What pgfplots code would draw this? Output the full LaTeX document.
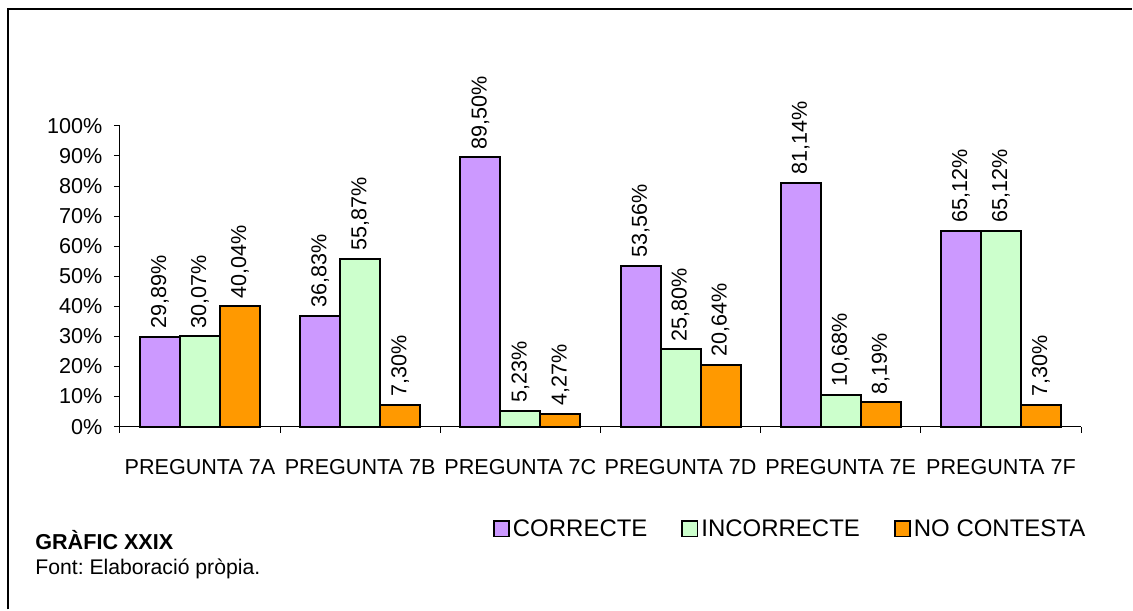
\documentclass[border=0pt]{standalone}
\usepackage{fontspec}
\setmainfont{Liberation Sans}
\usepackage{pgfplots}
\pgfplotsset{compat=1.18}
\definecolor{cpurple}{HTML}{CC99FF}
\definecolor{cgreen}{HTML}{CCFFCC}
\definecolor{corange}{HTML}{FF9900}
\pgfplotsset{sqleg/.style={legend image code/.code={\draw[##1,line width=0.9pt] (0pt,-3.4pt) rectangle (7.6pt,4.2pt);}}}

\begin{document}
\frenchspacing
\fontsize{10.8}{13}\selectfont
\begin{tikzpicture}[x=1pt,y=1pt]
\path (0,0) rectangle (566.5,305);
\draw[line width=1pt] (4,0) -- (4,300.5) -- (566.5,300.5);
\node[anchor=base west, inner sep=0pt, font=\bfseries] at (17.5,30) {GRÀFIC XXIX};
\node[anchor=base west, inner sep=0pt, font=\fontsize{10.6}{13}\selectfont] at (17.5,17.5) {Font: Elaboració pròpia.};
\begin{axis}[
    at={(60pt,91.5pt)}, anchor=south west,
    scale only axis, width=481pt, height=150.5pt,
    ybar=0pt, bar width=20pt,
    xmin=-0.5, xmax=5.5, ymin=0, ymax=100,
    axis x line*=bottom, axis y line*=left,
    axis line style={line width=0.5pt, -},
    xtick={-0.5,0.5,...,5.5},
    x tick label as interval,
    xticklabels={PREGUNTA 7A, PREGUNTA 7B, PREGUNTA 7C, PREGUNTA 7D, PREGUNTA 7E, PREGUNTA 7F},
    ytick={0,10,...,100},
    yticklabels={0\%,10\%,20\%,30\%,40\%,50\%,60\%,70\%,80\%,90\%,100\%},
    tick align=outside,
    major tick length=3pt,
    tick style={black, line width=0.5pt},
    xticklabel style={yshift=-9.5pt},
    yticklabel style={xshift=-2pt},
    clip=false,
    nodes near coords={\pgfmathprintnumber[fixed,fixed zerofill,precision=2,use comma,assume math mode=true]{\pgfplotspointmeta}\%},
    every node near coord/.append style={rotate=90, anchor=west, inner sep=3.5pt, black},
    legend style={at={(0.3877,-0.343)}, anchor=west, draw=none, fill=none,
        inner sep=0pt, legend columns=3, font=\fontsize{12}{14}\selectfont,
        /tikz/every even column/.append style={column sep=15.5pt},
        nodes={inner xsep=1.5pt, inner ysep=0pt}},
    legend cell align=left,
]
\addplot[fill=cpurple, draw=black, line width=1pt, sqleg] coordinates {
    (0,29.89) (1,36.83) (2,89.50) (3,53.56) (4,81.14) (5,65.12)};
\addplot[fill=cgreen, draw=black, line width=1pt, sqleg] coordinates {
    (0,30.07) (1,55.87) (2,5.23) (3,25.80) (4,10.68) (5,65.12)};
\addplot[fill=corange, draw=black, line width=1pt, sqleg] coordinates {
    (0,40.04) (1,7.30) (2,4.27) (3,20.64) (4,8.19) (5,7.30)};
\legend{CORRECTE, INCORRECTE, NO CONTESTA}
\end{axis}
\end{tikzpicture}
\end{document}
